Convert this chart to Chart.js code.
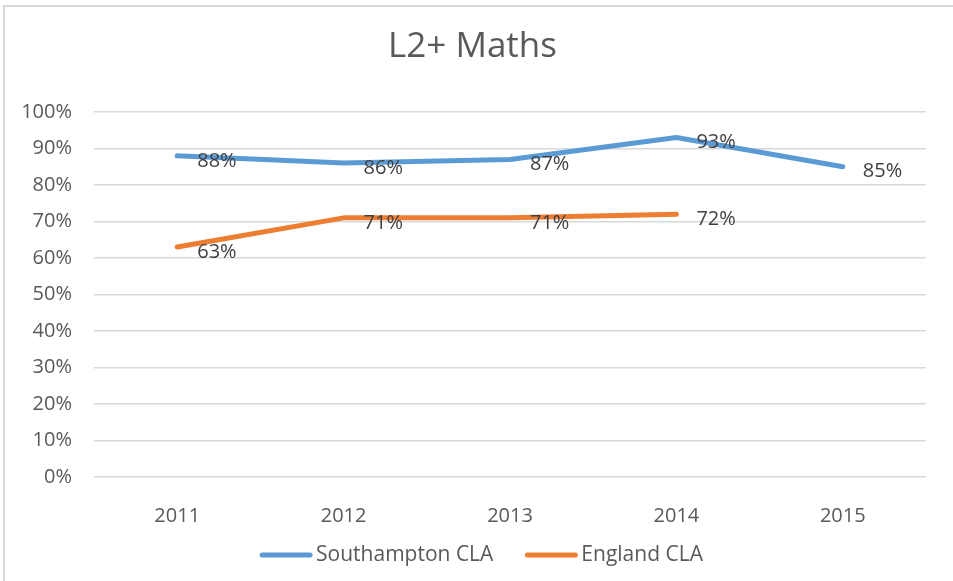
<!DOCTYPE html>
<html>
<head>
<meta charset="utf-8">
<script src="https://cdn.jsdelivr.net/npm/chart.js@4.4.1/dist/chart.umd.min.js"></script>
<style>
  html, body { margin: 0; padding: 0; background: #fff; }
  #wrap { position: relative; width: 953px; height: 581px; overflow: hidden; }
  #frame { position: absolute; left: 3px; top: 5px; right: -5px; bottom: -5px; border: 2px solid #d9d9d9; }
  canvas { position: absolute; left: 0; top: 0; }
</style>
</head>
<body>
<div id="wrap">
  <div id="frame"></div>
  <canvas id="chart" width="953" height="581"></canvas>
</div>
<script>
// Chart data
const years = ['2011', '2012', '2013', '2014', '2015'];
const southamptonCLA = [88, 86, 87, 93, 85];
const englandCLA = [63, 71, 71, 72, null];
const yTicks = [0, 10, 20, 30, 40, 50, 60, 70, 80, 90, 100];

const FONT = "'Open Sans', sans-serif";

// Draws the value labels just right of and a bit below each point
const valueLabels = {
  id: 'valueLabels',
  afterDatasetsDraw(chart) {
    const ctx = chart.ctx;
    ctx.save();
    ctx.font = `20px ${FONT}`;
    ctx.fillStyle = '#404040';
    ctx.textAlign = 'left';
    ctx.textBaseline = 'middle';
    chart.data.datasets.forEach((ds, i) => {
      const meta = chart.getDatasetMeta(i);
      meta.data.forEach((pt, j) => {
        const v = ds.data[j];
        if (v == null) return;
        ctx.fillText(v + '%', pt.x + 20, pt.y + 5);
      });
    });
    ctx.restore();
  }
};

// Excel style legend: long thick line sample, text tight against it
const lineLegend = {
  id: 'lineLegend',
  afterDraw(chart) {
    const ctx = chart.ctx;
    const sampleW = 52, gap = 4, itemGap = 32;
    ctx.save();
    ctx.font = `21px ${FONT}`;
    const items = chart.data.datasets.map(ds => ({
      text: ds.label,
      color: ds.borderColor,
      w: ctx.measureText(ds.label).width
    }));
    const total = items.reduce((s, it) => s + sampleW + gap + it.w, 0) + itemGap * (items.length - 1);
    let x = (chart.width - total) / 2 + 5;
    const y = 555;
    ctx.textBaseline = 'middle';
    ctx.textAlign = 'left';
    items.forEach(it => {
      ctx.strokeStyle = it.color;
      ctx.lineWidth = 5;
      ctx.lineCap = 'round';
      ctx.beginPath();
      ctx.moveTo(x + 2, y);
      ctx.lineTo(x + sampleW - 2, y);
      ctx.stroke();
      ctx.fillStyle = '#595959';
      ctx.fillText(it.text, x + sampleW + gap, y);
      x += sampleW + gap + it.w + itemGap;
    });
    ctx.restore();
  }
};

new Chart(document.getElementById('chart'), {
  type: 'line',
  data: {
    labels: years,
    datasets: [
      {
        label: 'Southampton CLA',
        data: southamptonCLA,
        borderColor: '#5b9bd5',
        backgroundColor: '#5b9bd5',
        borderWidth: 5,
        borderCapStyle: 'round',
        borderJoinStyle: 'round',
        pointRadius: 0,
        tension: 0
      },
      {
        label: 'England CLA',
        data: englandCLA,
        borderColor: '#ed7d31',
        backgroundColor: '#ed7d31',
        borderWidth: 5,
        borderCapStyle: 'round',
        borderJoinStyle: 'round',
        pointRadius: 0,
        tension: 0
      }
    ]
  },
  options: {
    responsive: false,
    animation: false,
    layout: { padding: { left: 19, right: 27, top: 0, bottom: 46 } },
    plugins: {
      title: {
        display: true,
        text: 'L2+ Maths',
        color: '#595959',
        font: { family: FONT, size: 35, weight: 'normal' },
        padding: { top: 26, bottom: 44 }
      },
      legend: { display: false },
      tooltip: { enabled: false }
    },
    scales: {
      x: {
        offset: true,
        grid: { display: false, drawTicks: false },
        border: { display: false },
        ticks: { color: '#595959', padding: 27, font: { family: FONT, size: 20 } },
        afterFit: (scale) => { scale.height = 58; }
      },
      y: {
        min: 0,
        max: 100,
        grid: { color: '#d9d9d9', lineWidth: 1.5, drawTicks: false },
        border: { display: false },
        afterBuildTicks: (scale) => { scale.ticks = yTicks.map(v => ({ value: v })); },
        ticks: {
          color: '#595959',
          padding: 22,
          font: { family: FONT, size: 20 },
          callback: (v) => v + '%'
        },
        afterFit: (scale) => { scale.width = 75; }
      }
    }
  },
  plugins: [valueLabels, lineLegend]
});
</script>
</body>
</html>
